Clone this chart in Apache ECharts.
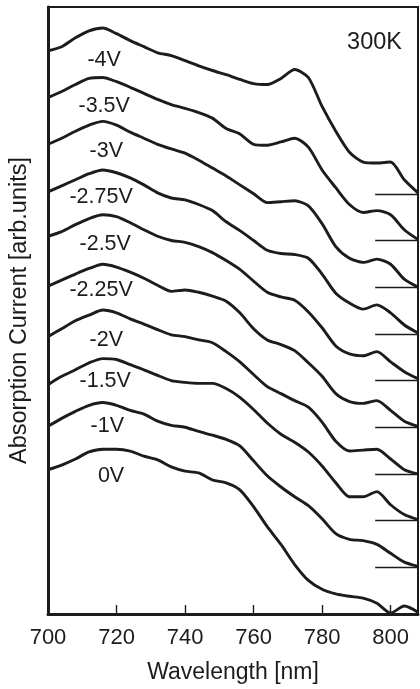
<!DOCTYPE html>
<html>
<head>
<meta charset="utf-8">
<script src="https://cdn.jsdelivr.net/npm/echarts@6/dist/echarts.min.js"></script>
<style>
html,body{margin:0;padding:0;background:#fff;}
#chart{width:420px;height:689px;}
</style>
</head>
<body>
<div id="chart"></div>
<script>
// Wavelength grid (nm)
var wavelengths = [700,704,708,712,716,720,724,728,732,736,740,744,748,752,756,760,764,768,772,776,780,784,788,792,796,800,804,808];

// Bias voltages (curve labels), bottom to top
var biasLabels = ['0V','-1V','-1.5V','-2V','-2.25V','-2.5V','-2.75V','-3V','-3.5V','-4V'];
// Vertical offset of each curve's baseline (arb. units)
var offsets = [0,1,2,3,4,5,6,7,8,9];

// Absorption current of each curve above its own baseline (arb. units)
var v0V    = [3.09,3.19,3.32,3.47,3.53,3.53,3.49,3.38,3.30,3.15,3.06,3.02,2.87,2.81,2.66,2.30,1.87,1.49,1.06,0.72,0.53,0.43,0.38,0.34,0.23,0.02,0.17,0.04];
var vm1V   = [3.02,3.19,3.34,3.47,3.53,3.47,3.36,3.28,3.13,3.04,3.00,2.91,2.83,2.74,2.60,2.28,1.96,1.72,1.51,1.32,1.04,0.72,0.60,0.57,0.49,0.30,0.11,0.02];
var vm15V  = [2.91,3.09,3.23,3.38,3.47,3.45,3.34,3.23,3.11,3.00,2.96,2.94,2.94,2.83,2.64,2.38,2.09,1.85,1.68,1.47,1.17,0.81,0.51,0.51,0.62,0.34,0.13,0.02];
var vm2V   = [2.94,3.11,3.28,3.40,3.51,3.45,3.32,3.21,3.09,2.98,2.94,2.87,2.81,2.62,2.40,2.13,1.87,1.72,1.57,1.43,1.11,0.70,0.49,0.51,0.53,0.32,0.09,0.00];
var vm225V = [3.02,3.15,3.28,3.40,3.49,3.43,3.32,3.19,3.04,2.91,2.94,2.89,2.81,2.70,2.45,2.11,1.87,1.77,1.64,1.38,1.09,0.72,0.55,0.51,0.57,0.36,0.13,0.02];
var vm25V  = [3.09,3.19,3.34,3.47,3.55,3.51,3.38,3.23,3.09,3.00,2.96,2.87,2.74,2.57,2.38,2.13,1.89,1.79,1.72,1.47,1.13,0.74,0.57,0.53,0.62,0.40,0.19,0.04];
var vm275V = [3.04,3.17,3.30,3.43,3.51,3.45,3.34,3.19,3.02,2.91,2.87,2.77,2.64,2.40,2.21,2.00,1.79,1.72,1.70,1.62,1.28,0.87,0.66,0.53,0.62,0.45,0.19,0.02];
var vm3V   = [3.06,3.19,3.34,3.47,3.55,3.47,3.32,3.19,3.06,2.96,2.87,2.72,2.55,2.38,2.19,2.00,1.81,1.83,1.85,1.74,1.36,0.87,0.62,0.53,0.60,0.49,0.17,0.00];
var vm35V  = [3.06,3.19,3.34,3.47,3.49,3.40,3.28,3.15,3.02,2.91,2.83,2.74,2.62,2.40,2.28,2.06,2.04,2.11,2.19,2.00,1.51,1.13,0.77,0.60,0.64,0.55,0.23,0.02];
var vm4V   = [3.06,3.15,3.34,3.49,3.55,3.43,3.28,3.15,3.02,2.96,2.85,2.74,2.64,2.55,2.45,2.36,2.34,2.47,2.66,2.49,1.87,1.34,0.89,0.68,0.66,0.68,0.30,0.02];

var curves = [v0V,vm1V,vm15V,vm2V,vm225V,vm25V,vm275V,vm3V,vm35V,vm4V];

// Label anchor for each curve: wavelength (nm) and height above baseline
var labelWl  = [718.4,717.3,716.7,717.0,715.5,716.7,715.5,717.0,716.4,716.4];
var labelH   = [2.96,3.03,2.99,2.86,2.93,2.93,2.93,2.91,2.87,2.87];

// Axis ticks
var xTicks = [700,720,740,760,780,800];
var xMin = 700, xMax = 808;
var yMin = 0, yMax = 13;
var baseMarkStart = 795.5;

var FONT = '"Liberation Sans", Arial, Helvetica, sans-serif';
var INK = '#1c1c1c';

var series = curves.map(function(vals, k){
  var s = {
    type:'line',
    name: biasLabels[k],
    data: vals.map(function(v,i){ return [wavelengths[i], v + offsets[k]]; }),
    showSymbol:false,
    smooth:0.25,
    lineStyle:{color:INK, width:2.9},
    z:3,
    markPoint:{
      symbol:'circle', symbolSize:0, silent:true,
      label:{show:true, position:'inside', formatter: biasLabels[k], color:INK, fontSize:21.5, fontFamily:FONT},
      data:[{coord:[labelWl[k], labelH[k] + offsets[k]]}]
    }
  };
  if (offsets[k] > 0) {
    s.markLine = {
      symbol:'none', silent:true, animation:false,
      label:{show:false},
      lineStyle:{color:INK, width:1.4, type:'solid'},
      data:[[{coord:[baseMarkStart, offsets[k]]},{coord:[xMax, offsets[k]]}]]
    };
  }
  return s;
});

var chart = echarts.init(document.getElementById('chart'), null, {renderer:'canvas'});
chart.setOption({
  animation:false,
  backgroundColor:'#fff',
  grid:{left:48, right:2, top:7, bottom:72, show:true, borderColor:INK, borderWidth:2, backgroundColor:'transparent'},
  xAxis:{
    type:'value', min:xMin, max:xMax, interval:20,
    name:'Wavelength [nm]', nameLocation:'middle', nameGap:47,
    nameTextStyle:{fontSize:23, color:INK, fontFamily:FONT},
    axisLine:{show:true, lineStyle:{color:INK, width:3}},
    axisTick:{show:true, inside:true, length:9, lineStyle:{color:INK, width:1.4}},
    axisLabel:{show:true, margin:13, fontSize:22, color:INK, fontFamily:FONT, showMaxLabel:false,
      formatter:function(v){ return xTicks.indexOf(v) >= 0 ? String(v) : ''; }},
    splitLine:{show:false}
  },
  yAxis:{
    type:'value', min:yMin, max:yMax,
    name:'Absorption Current [arb.units]', nameLocation:'middle', nameGap:16,
    nameTextStyle:{fontSize:23.5, color:INK, fontFamily:FONT},
    axisLine:{show:true, lineStyle:{color:INK, width:3}},
    axisTick:{show:false}, axisLabel:{show:false}, splitLine:{show:false}
  },
  graphic:[{
    type:'text', x:402, y:43,
    style:{text:'300K', fill:INK, font:'23.5px ' + FONT, textAlign:'right', textVerticalAlign:'middle'}
  }],
  series: series
});
</script>
</body>
</html>
